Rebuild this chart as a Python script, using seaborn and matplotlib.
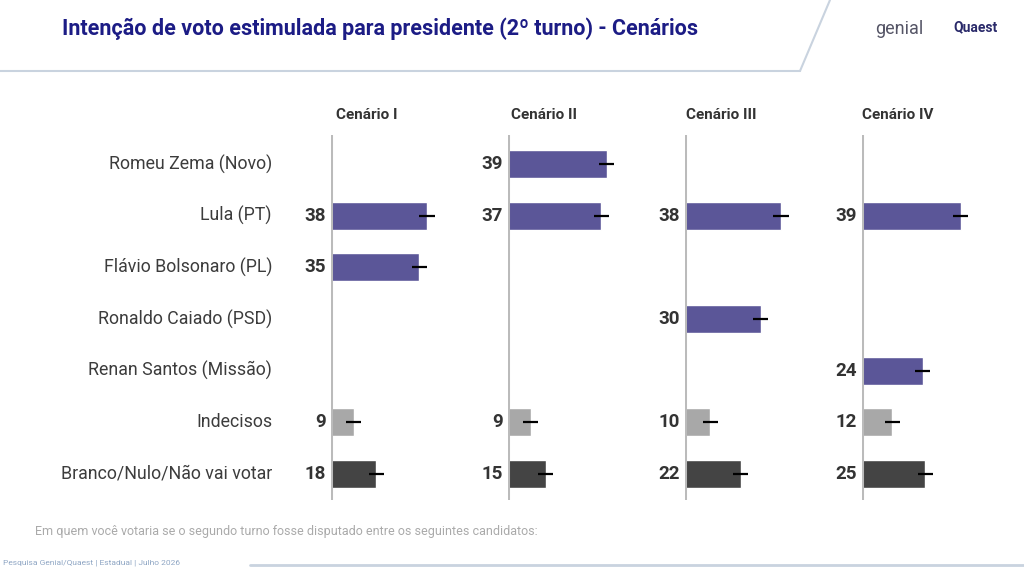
import numpy as np
import pandas as pd
import matplotlib.pyplot as plt
import seaborn as sns

sns.set_theme(style="white")
plt.rcParams['font.family'] = ['Roboto', 'DejaVu Sans']

candidates = ["Romeu Zema (Novo)", "Lula (PT)", "Flávio Bolsonaro (PL)",
              "Ronaldo Caiado (PSD)", "Renan Santos (Missão)", "Indecisos",
              "Branco/Nulo/Não vai votar"]
scenarios = ["Cenário I", "Cenário II", "Cenário III", "Cenário IV"]
values = [
    [None, 38, 35, None, None, 9, 18],
    [39, 37, None, None, None, 9, 15],
    [None, 38, None, 30, None, 10, 22],
    [None, 39, None, None, 24, 12, 25],
]
margin = 3

purple, light, dark = "#5b5698", "#a8a8a8", "#444444"
colors = {c: purple for c in candidates}
colors["Indecisos"] = light
colors["Branco/Nulo/Não vai votar"] = dark

W, H = 1024, 572
fig = plt.figure(figsize=(W / 100, H / 100), dpi=100)
fig.patch.set_facecolor("white")

fig.text(62 / W, 1 - 29 / H, "Intenção de voto estimulada para presidente (2º turno) - Cenários",
         color="#1c1c85", fontsize=15.5, fontweight="bold", va="center", ha="left")
fig.text(875 / W, 1 - 29 / H, "genial", color="#555566", fontsize=13, va="center")
fig.text(953 / W, 1 - 27 / H, "Quaest", color="#2a2a6a", fontsize=10, fontweight="bold", va="center")
fig.add_artist(plt.Line2D([0, 800 / W], [1 - 71 / H] * 2, color="#c9d3df", lw=1.5))
fig.add_artist(plt.Line2D([800 / W, 830 / W], [1 - 71 / H, 1], color="#c9d3df", lw=1.5))

top, bottom = 135, 500
step = (474 - 164) / 6
ylim_top = -(164 - top) / step
ylim_bot = 6 + (bottom - 474) / step
ppu = 96 / 38
axw = 160
for i, (sc, vals) in enumerate(zip(scenarios, values)):
    x0 = 331 + i * 177
    ax = fig.add_axes([x0 / W, 1 - bottom / H, axw / W, (bottom - top) / H])
    df = pd.DataFrame({"cand": candidates, "v": vals}).dropna()
    sns.barplot(data=df, x="v", y="cand", hue="cand", order=candidates, palette=colors,
                orient="h", width=0.54, legend=False, ax=ax, saturation=1)
    ax.errorbar(df["v"], [candidates.index(c) for c in df["cand"]], xerr=margin,
                fmt="none", ecolor="black", elinewidth=1.6, capsize=0)
    for c, v in zip(df["cand"], df["v"]):
        ax.text(-2, candidates.index(c), f"{int(v)}", ha="right", va="center",
                fontsize=13.5, fontweight="bold", color="#333333")
    ax.axvline(0, color="#bbbbbb", lw=2.2)
    ax.set_xlim(0, axw / ppu)
    ax.set_ylim(ylim_bot, ylim_top)
    ax.axis("off")
    fig.text((x0 + 36) / W, 1 - 115 / H, sc, ha="center", va="center",
             fontsize=11, fontweight="bold", color="#333333")

for j, c in enumerate(candidates):
    fig.text(272 / W, 1 - (164 + j * step) / H, c, ha="right", va="center",
             fontsize=12.8, color="#3c3c3c")

fig.text(35 / W, 1 - 531 / H, "Em quem você votaria se o segundo turno fosse disputado entre os seguintes candidatos:",
         fontsize=9, color="#aaaaaa", va="center")
fig.text(3 / W, 1 - 563 / H, "Pesquisa Genial/Quaest | Estadual | Julho 2026", fontsize=6,
         color="#8fa6c4", va="center")
fig.add_artist(plt.Line2D([250 / W, 1], [1 - 565 / H] * 2, color="#c9d3df", lw=2))

fig.savefig("out.png", dpi=100)
